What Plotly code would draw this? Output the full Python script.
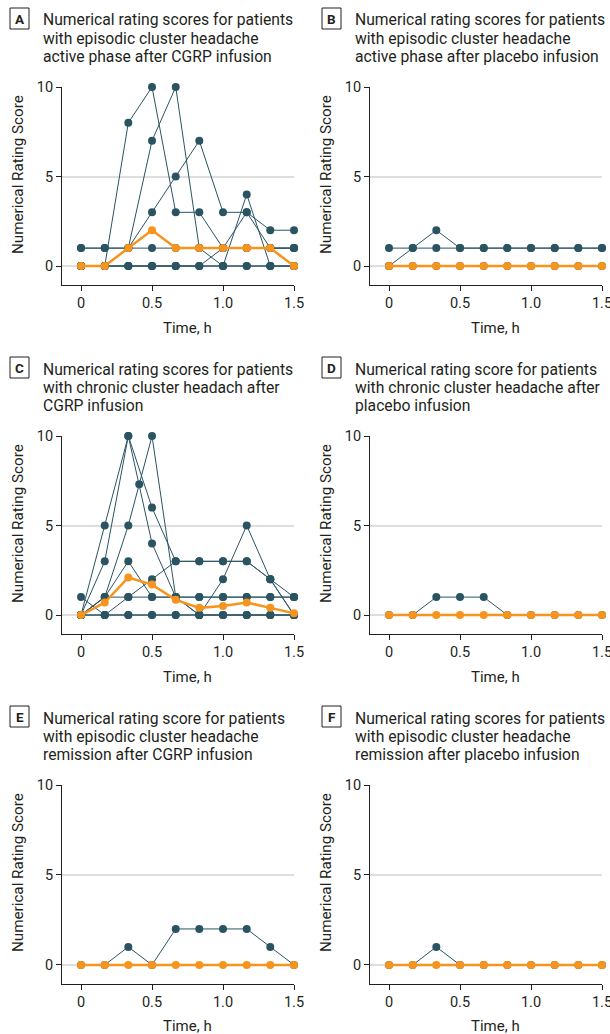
import plotly.graph_objects as go

# ---------------- data ----------------
TIME = [0, 0.167, 0.333, 0.5, 0.667, 0.833, 1.0, 1.167, 1.333, 1.5]
TIME_C_EXTRA = [0, 0.167, 0.333, 0.41, 0.5, 0.667, 0.833, 1.0, 1.167, 1.333, 1.5]

X_TICKS = [0, 0.5, 1.0, 1.5]
X_TICK_LABELS = ["0", "0.5", "1.0", "1.5"]
Y_TICKS = [0, 5, 10]
Y_TICK_LABELS = ["0", "5", "10"]

# Panel A: episodic active phase, CGRP
A_patients = [
    [1, 1, 1, 1, 1, 1, 1, 1, 1, 1],
    [0, 0, 8, 10, 3, 3, 1, 1, 1, 1],
    [1, 1, 1, 7, 10, 1, 0, 0, 0, 0],
    [0, 0, 1, 3, 5, 7, 3, 3, 2, 2],
    [0, 0, 0, 0, 0, 0, 0, 4, 0, 0],
    [0, 0, 0, 0, 0, 0, 1, 3, 1, 1],
    [0, 0, 0, 0, 0, 0, 0, 0, 0, 0],
]
A_mean = [0, 0, 1, 2, 1, 1, 1, 1, 1, 0]

# Panel B: episodic active phase, placebo
B_patients = [
    [1, 1, 1, 1, 1, 1, 1, 1, 1, 1],
    [0, 1, 2, 1, 1, 1, 1, 1, 1, 1],
    [0, 0, 0, 0, 0, 0, 0, 0, 0, 0],
]
B_mean = [0, 0, 0, 0, 0, 0, 0, 0, 0, 0]

# Panel C: chronic, CGRP
C_patients = [
    [0, 5, 10, 6, 3, 3, 3, 3, 2, 1],
    [0, 3, 10, 4, 1, 0, 0, 0, 0, 0],
    [1, 0, 0, 0, 0, 0, 0, 0, 0, 0],
    [0, 1, 3, 1, 1, 1, 1, 1, 1, 1],
    [0, 0, 1, 2, 3, 3, 3, 3, 2, 0],
    [0, 0, 0, 0, 0, 0, 2, 5, 2, 0],
    [0, 1, 1, 1, 1, 1, 1, 1, 1, 1],
]
C_patient_extra = [0, 1, 5, 7.3, 10, 1, 0, 0, 0, 0, 0]
C_mean = [0, 0.7, 2.1, 1.7, 0.85, 0.4, 0.5, 0.7, 0.4, 0.1]

# Panel D: chronic, placebo
D_patients = [
    [0, 0, 1, 1, 1, 0, 0, 0, 0, 0],
]
D_mean = [0, 0, 0, 0, 0, 0, 0, 0, 0, 0]

# Panel E: episodic remission, CGRP
E_patients = [
    [0, 0, 1, 0, 2, 2, 2, 2, 1, 0],
]
E_mean = [0, 0, 0, 0, 0, 0, 0, 0, 0, 0]

# Panel F: episodic remission, placebo
F_patients = [
    [0, 0, 1, 0, 0, 0, 0, 0, 0, 0],
]
F_mean = [0, 0, 0, 0, 0, 0, 0, 0, 0, 0]

TITLES = {
    "A": ["Numerical rating scores for patients", "with episodic cluster headache", "active phase after CGRP infusion"],
    "B": ["Numerical rating scores for patients", "with episodic cluster headache", "active phase after placebo infusion"],
    "C": ["Numerical rating scores for patients", "with chronic cluster headach after", "CGRP infusion"],
    "D": ["Numerical rating score for patients", "with chronic cluster headache after", "placebo infusion"],
    "E": ["Numerical rating score for patients", "with episodic cluster headache", "remission after CGRP infusion"],
    "F": ["Numerical rating scores for patients", "with episodic cluster headache", "remission after placebo infusion"],
}

# ---------------- styling ----------------
W, H = 610, 1034
DARK = "#2b5462"
ORANGE = "#f7941d"
FONT = "Roboto"
TXT = "#231f20"

def px_x(p):
    return p / W

def px_y(p):
    return 1 - p / H

col_x = {0: (62, 294), 1: (370, 602)}
row_y = {0: (87, 285), 1: (436, 634), 2: (785, 984)}

panels = [
    ("A", 0, 0, A_patients, A_mean),
    ("B", 0, 1, B_patients, B_mean),
    ("C", 1, 0, C_patients, C_mean),
    ("D", 1, 1, D_patients, D_mean),
    ("E", 2, 0, E_patients, E_mean),
    ("F", 2, 1, F_patients, F_mean),
]

fig = go.Figure()
layout = dict(
    width=W, height=H, margin=dict(l=0, r=0, t=0, b=0, autoexpand=False),
    paper_bgcolor="white", plot_bgcolor="white", showlegend=False,
    font=dict(family=FONT, color=TXT),
)
annotations = []
shapes = []

for i, (letter, r, c, pats, mean) in enumerate(panels):
    n = i + 1
    xa = "x" if n == 1 else f"x{n}"
    ya = "y" if n == 1 else f"y{n}"
    x0p, x1p = col_x[c]
    ytop, ybot = row_y[r]
    layout[f"xaxis{'' if n == 1 else n}"] = dict(
        domain=[px_x(x0p), px_x(x1p)], range=[-0.134, 1.5], anchor=ya,
        tickvals=X_TICKS, ticktext=X_TICK_LABELS, ticks="outside", ticklen=5,
        tickcolor=TXT, showline=True, linecolor=TXT, linewidth=1,
        showgrid=False, zeroline=False, fixedrange=True, automargin=False,
        ticklabeloverflow="allow",
        tickfont=dict(size=14.5, color=TXT, family=FONT),
    )
    layout[f"yaxis{'' if n == 1 else n}"] = dict(
        domain=[px_y(ybot), px_y(ytop)], range=[-1.06, 10], anchor=xa,
        tickvals=Y_TICKS, ticktext=Y_TICK_LABELS, ticks="outside", ticklen=5,
        tickcolor=TXT, showline=True, linecolor=TXT, linewidth=1,
        showgrid=True, gridcolor="#dedede", gridwidth=1.5, zeroline=False,
        fixedrange=True, automargin=False, ticklabeloverflow="allow",
        tickfont=dict(size=14.5, color=TXT, family=FONT),
    )
    for p in pats:
        fig.add_trace(go.Scatter(
            x=TIME, y=p, xaxis=xa, yaxis=ya, mode="lines+markers",
            line=dict(color=DARK, width=1), marker=dict(color=DARK, size=8),
            cliponaxis=False, hoverinfo="skip"))
    if letter == "C":
        fig.add_trace(go.Scatter(
            x=TIME_C_EXTRA, y=C_patient_extra, xaxis=xa, yaxis=ya,
            mode="lines+markers", line=dict(color=DARK, width=1),
            marker=dict(color=DARK, size=8), cliponaxis=False, hoverinfo="skip"))
    fig.add_trace(go.Scatter(
        x=TIME, y=mean, xaxis=xa, yaxis=ya, mode="lines+markers",
        line=dict(color=ORANGE, width=2.5), marker=dict(color=ORANGE, size=8),
        cliponaxis=False, hoverinfo="skip"))

    # axis titles
    annotations.append(dict(
        x=0.75, xref=xa, y=px_y(ytop + 241), yref="paper", text="Time, h",
        showarrow=False, xanchor="center", yanchor="middle",
        font=dict(size=15, color=TXT, family=FONT)))
    annotations.append(dict(
        x=px_x(x0p - 44), xref="paper", y=px_y(ytop + 88), yref="paper",
        text="Numerical Rating Score", textangle=-90, showarrow=False,
        xanchor="center", yanchor="middle",
        font=dict(size=15.2, color=TXT, family=FONT)))

    # panel letter box and title
    bx = 10 if c == 0 else 322
    by = ytop - 79
    shapes.append(dict(type="rect", xref="paper", yref="paper",
                       x0=px_x(bx), x1=px_x(bx + 19), y0=px_y(by + 21), y1=px_y(by),
                       line=dict(color=TXT, width=1), fillcolor="white"))
    annotations.append(dict(
        x=px_x(bx + 9.5), xref="paper", y=px_y(by + 10.5), yref="paper",
        text=f"<b>{letter}</b>", showarrow=False, xanchor="center", yanchor="middle",
        font=dict(size=13.5, color=TXT, family=FONT)))
    for k, line in enumerate(TITLES[letter]):
        annotations.append(dict(
            x=px_x(bx + 31), xref="paper", y=px_y(by + 12 + 18.3 * k), yref="paper",
            text=line, showarrow=False, xanchor="left", yanchor="middle",
            align="left", font=dict(size=15.7, color=TXT, family=FONT)))

layout["annotations"] = annotations
layout["shapes"] = shapes
fig.update_layout(**layout)
fig.write_html(
    "out.html",
    config={"displayModeBar": False},
    post_script="document.body.style.margin='0';document.body.style.overflow='hidden';",
)
